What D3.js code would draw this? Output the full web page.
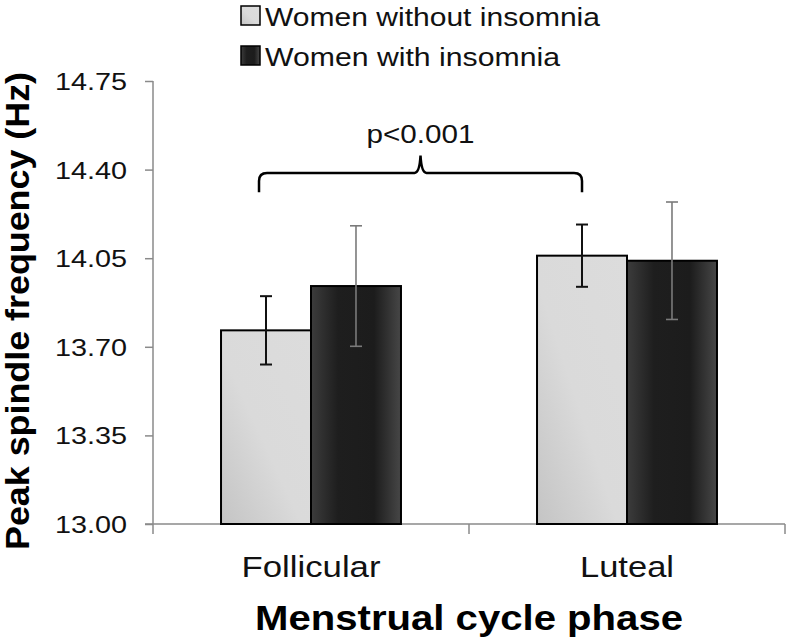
<!DOCTYPE html>
<html>
<head>
<meta charset="utf-8">
<script src="https://cdn.jsdelivr.net/npm/d3@7"></script>
<style>
  html, body { margin: 0; padding: 0; background: #fff; }
  svg { display: block; font-family: "Liberation Sans", Arial, sans-serif; }
</style>
</head>
<body>
<svg id="chart" width="788" height="642"></svg>
<script>
// ---- data ----
const phases = ["Follicular", "Luteal"];
const seriesNames = ["Women without insomnia", "Women with insomnia"];
const meanWithout = [13.765, 14.06];
const errWithout = [0.135, 0.123];
const meanWith = [13.94, 14.04];
const errWith = [0.238, 0.232];
const yTicks = [13.00, 13.35, 13.70, 14.05, 14.40, 14.75];
const significanceLabel = "p<0.001";
const yTitle = "Peak spindle frequency (Hz)";
const xTitle = "Menstrual cycle phase";

// ---- layout ----
const svg = d3.select("#chart");
const plot = { left: 153, right: 785, top: 81, bottom: 524 };

const x = d3.scaleBand().domain(phases).range([plot.left, plot.right]).paddingInner(0).paddingOuter(0);
const xSub = d3.scaleBand().domain(seriesNames).range([0, x.bandwidth()]).paddingInner(0).paddingOuter(0.756);
const y = d3.scaleLinear().domain([13.0, 14.75]).range([plot.bottom, plot.top]);

// ---- gradients ----
const defs = svg.append("defs");
const gLight = defs.append("linearGradient").attr("id", "gLight")
  .attr("x1", "0%").attr("y1", "100%").attr("x2", "100%").attr("y2", "0%");
[["0%", "#c4c4c4"], ["45%", "#dadada"], ["100%", "#dcdcdc"]].forEach(s =>
  gLight.append("stop").attr("offset", s[0]).attr("stop-color", s[1]));
const gDark = defs.append("linearGradient").attr("id", "gDark")
  .attr("x1", "0%").attr("y1", "0%").attr("x2", "100%").attr("y2", "0%");
[["0%", "#3c3c3c"], ["30%", "#1e1e1e"], ["70%", "#1c1c1c"], ["100%", "#474747"]].forEach(s =>
  gDark.append("stop").attr("offset", s[0]).attr("stop-color", s[1]));
const fills = ["url(#gLight)", "url(#gDark)"];
const errColors = ["#111", "#7a7a7a"];
const errWidths = [2, 1.6];

// ---- axes ----
const axisColor = "#8a8a8a";
const yAxis = svg.append("g").attr("transform", `translate(${plot.left},0)`)
  .call(d3.axisLeft(y).tickValues(yTicks).tickSize(8).tickPadding(18).tickFormat(d3.format(".2f")));
yAxis.select(".domain").attr("stroke", axisColor).attr("stroke-width", 1.5).attr("d", `M0,${plot.top}V${plot.bottom}`);
yAxis.selectAll(".tick line").attr("stroke", axisColor).attr("stroke-width", 1.5);
yAxis.selectAll(".tick text").attr("font-size", 24).attr("fill", "#111")
  .attr("font-family", "Liberation Sans, Arial, sans-serif")
  .attr("textLength", 72).attr("lengthAdjust", "spacingAndGlyphs").attr("dy", "0.35em");

const xAxis = svg.append("g").attr("transform", `translate(0,${plot.bottom})`)
  .call(d3.axisBottom(x).tickSize(0).tickFormat(""));
xAxis.select(".domain").attr("stroke", axisColor).attr("stroke-width", 1.5)
  .attr("d", `M${plot.left - 8},0H${plot.right}`);
xAxis.selectAll(".tick").remove();
const boundaries = [phases[0]].map(p => x(p)).concat(phases.map(p => x(p) + x.bandwidth()));
xAxis.selectAll("line.sep").data(boundaries).join("line").attr("class", "sep")
  .attr("x1", d => d).attr("x2", d => d).attr("y1", 0).attr("y2", 10)
  .attr("stroke", axisColor).attr("stroke-width", 1.5);

// category labels
const catLengths = { "Follicular": 139, "Luteal": 94 };
svg.selectAll("text.cat").data(phases).join("text").attr("class", "cat")
  .attr("x", d => x(d) + x.bandwidth() / 2).attr("y", 577)
  .attr("text-anchor", "middle").attr("font-size", 30).attr("fill", "#111")
  .attr("textLength", d => catLengths[d]).attr("lengthAdjust", "spacingAndGlyphs")
  .text(d => d);

// ---- bars ----
const rows = [];
phases.forEach((p, i) => {
  rows.push({ phase: p, s: 0, v: meanWithout[i], e: errWithout[i] });
  rows.push({ phase: p, s: 1, v: meanWith[i], e: errWith[i] });
});
svg.selectAll("rect.bar").data(rows).join("rect").attr("class", "bar")
  .attr("x", d => x(d.phase) + xSub(seriesNames[d.s]))
  .attr("y", d => y(d.v))
  .attr("width", xSub.bandwidth())
  .attr("height", d => y(13.0) - y(d.v))
  .attr("fill", d => fills[d.s])
  .attr("stroke", "#000").attr("stroke-width", 2);

// error bars
const cap = 6;
const eb = svg.selectAll("g.err").data(rows).join("g").attr("class", "err")
  .attr("stroke", d => errColors[d.s]).attr("stroke-width", d => errWidths[d.s]);
const cx = d => x(d.phase) + xSub(seriesNames[d.s]) + xSub.bandwidth() / 2;
eb.append("line").attr("x1", cx).attr("x2", cx).attr("y1", d => y(d.v + d.e)).attr("y2", d => y(d.v - d.e));
eb.append("line").attr("x1", d => cx(d) - cap).attr("x2", d => cx(d) + cap).attr("y1", d => y(d.v + d.e)).attr("y2", d => y(d.v + d.e));
eb.append("line").attr("x1", d => cx(d) - cap).attr("x2", d => cx(d) + cap).attr("y1", d => y(d.v - d.e)).attr("y2", d => y(d.v - d.e));

// ---- significance bracket ----
const bL = x(phases[0]) + xSub(seriesNames[0]) + xSub.bandwidth() / 2 - 7;
const bR = x(phases[1]) + xSub(seriesNames[0]) + xSub.bandwidth() / 2;
const bM = (bL + bR) / 2;
const yLine = y(14.387), yEnd = y(14.311), yPeak = y(14.455);
const r = 8;
const path = `M${bL},${yEnd} V${yLine + r} Q${bL},${yLine} ${bL + r},${yLine} H${bM - 6} Q${bM - 1},${yLine} ${bM},${yPeak} Q${bM + 1},${yLine} ${bM + 6},${yLine} H${bR - r} Q${bR},${yLine} ${bR},${yLine + r} V${yEnd}`;
svg.append("path").attr("d", path).attr("fill", "none").attr("stroke", "#000").attr("stroke-width", 2.5);
svg.append("text").attr("x", bM).attr("y", 143).attr("text-anchor", "middle")
  .attr("font-size", 25).attr("fill", "#111")
  .attr("textLength", 108).attr("lengthAdjust", "spacingAndGlyphs")
  .text(significanceLabel);

// ---- legend ----
const legLengths = [335, 295];
const leg = svg.selectAll("g.leg").data(seriesNames).join("g").attr("class", "leg")
  .attr("transform", (d, i) => `translate(241,${6 + i * 40})`);
leg.append("rect").attr("width", 19).attr("height", 19)
  .attr("fill", (d, i) => fills[i]).attr("stroke", "#000").attr("stroke-width", 1.5);
leg.append("text").attr("x", 24).attr("y", 20).attr("font-size", 25).attr("fill", "#111")
  .attr("textLength", (d, i) => legLengths[i]).attr("lengthAdjust", "spacingAndGlyphs")
  .text(d => d);

// ---- axis titles ----
svg.append("text").attr("transform", `translate(29,${(72 + 550) / 2}) rotate(-90)`)
  .attr("text-anchor", "middle").attr("font-size", 33).attr("font-weight", "bold").attr("fill", "#000")
  .attr("textLength", 478).attr("lengthAdjust", "spacingAndGlyphs")
  .text(yTitle);
svg.append("text").attr("x", (plot.left + plot.right) / 2).attr("y", 630)
  .attr("text-anchor", "middle").attr("font-size", 35).attr("font-weight", "bold").attr("fill", "#000")
  .attr("textLength", 428).attr("lengthAdjust", "spacingAndGlyphs")
  .text(xTitle);
</script>
</body>
</html>
